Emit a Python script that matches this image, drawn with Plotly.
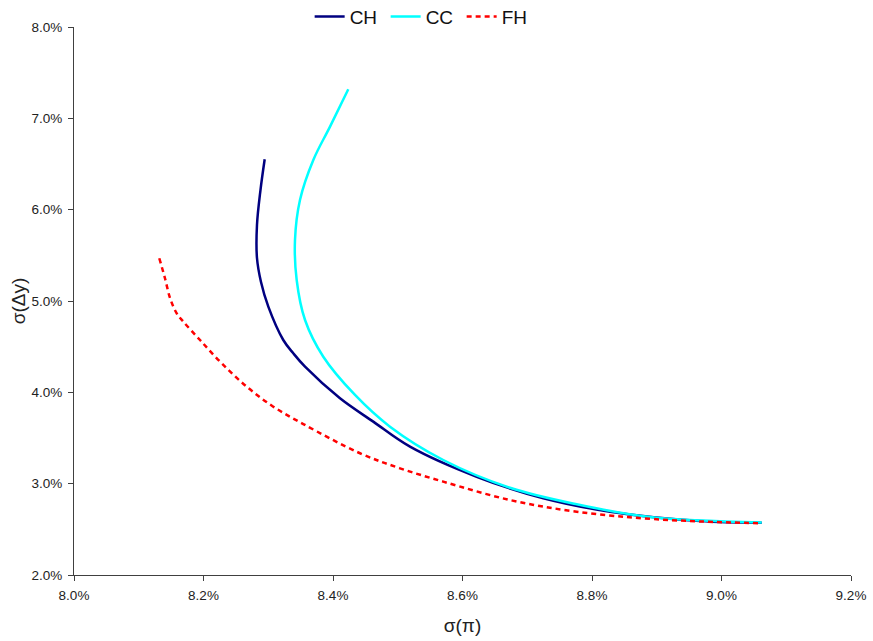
import plotly.graph_objects as go

# Data (values in percent)
ch_x = [8.2945, 8.2880, 8.2826, 8.2826, 8.2888, 8.3001, 8.3232, 8.3387, 8.3568, 8.4108, 8.4622,
        8.5189, 8.6219, 8.7248, 8.8278, 8.9668, 9.0621]
ch_y = [6.552, 6.215, 5.832, 5.471, 5.208, 4.938, 4.573, 4.427, 4.281, 3.935, 3.679,
        3.405, 3.076, 2.840, 2.693, 2.591, 2.573]

cc_x = [8.4236, 8.3954, 8.3696, 8.3490, 8.3413, 8.3439, 8.3568, 8.3850, 8.4340, 8.4880,
        8.5703, 8.6734, 8.7764, 8.8896, 9.0621]
cc_y = [7.318, 6.909, 6.544, 6.106, 5.668, 5.230, 4.792, 4.390, 3.971, 3.624,
        3.259, 2.955, 2.774, 2.635, 2.575]

fh_x = [8.1317, 8.1405, 8.1483, 8.1586, 8.1688, 8.1946, 8.2281, 8.2667, 8.3078, 8.3541,
        8.4417, 8.5035, 8.5703, 8.6734, 8.7764, 8.8999, 9.0595]
fh_y = [5.468, 5.249, 5.033, 4.865, 4.774, 4.573, 4.318, 4.062, 3.843, 3.653,
        3.333, 3.168, 3.022, 2.821, 2.693, 2.610, 2.566]

x_ticks = [8.0, 8.2, 8.4, 8.6, 8.8, 9.0, 9.2]
x_labels = ["8.0%", "8.2%", "8.4%", "8.6%", "8.8%", "9.0%", "9.2%"]
y_ticks = [2.0, 3.0, 4.0, 5.0, 6.0, 7.0, 8.0]
y_labels = ["2.0%", "3.0%", "4.0%", "5.0%", "6.0%", "7.0%", "8.0%"]

fig = go.Figure()
fig.add_trace(go.Scatter(x=ch_x, y=ch_y, mode="lines", name="CH",
                         line=dict(color="#000080", width=2.5, shape="spline", smoothing=1.0)))
fig.add_trace(go.Scatter(x=cc_x, y=cc_y, mode="lines", name="CC",
                         line=dict(color="#00FFFF", width=2.5, shape="spline", smoothing=1.0)))
fig.add_trace(go.Scatter(x=fh_x, y=fh_y, mode="lines", name="FH",
                         line=dict(color="#FF0000", width=2.5, shape="spline", smoothing=1.0,
                                   dash="5px,4px")))

axis_common = dict(showgrid=False, zeroline=False, showline=True, linecolor="#404040",
                   linewidth=1.2, ticks="outside", ticklen=5, tickcolor="#404040",
                   ticklabelstandoff=3,
                   tickfont=dict(family="Liberation Sans, Arial", size=13.5, color="#222"))

fig.update_xaxes(range=[8.0, 9.2], tickvals=x_ticks, ticktext=x_labels, **axis_common,
                 title=dict(text="σ(π)", font=dict(family="Liberation Sans, Arial", size=19, color="#222"),
                            standoff=16))
fig.update_yaxes(range=[2.0, 8.0], tickvals=y_ticks, ticktext=y_labels, **axis_common,
                 title=dict(text="σ(Δy)", font=dict(family="Liberation Sans, Arial", size=19, color="#222"),
                            standoff=0))

fig.update_layout(
    width=873, height=641,
    margin=dict(l=74, r=22, t=27, b=66, autoexpand=False),
    paper_bgcolor="white", plot_bgcolor="white",
    showlegend=True,
    legend=dict(orientation="h", x=0.45, xanchor="center", y=1.019, yanchor="middle",
                font=dict(family="Liberation Sans, Arial", size=19, color="#111"),
                entrywidth=31, entrywidthmode="pixels",
                itemwidth=30, tracegroupgap=0, bgcolor="rgba(0,0,0,0)"),
)

fig.write_html("out.html")
